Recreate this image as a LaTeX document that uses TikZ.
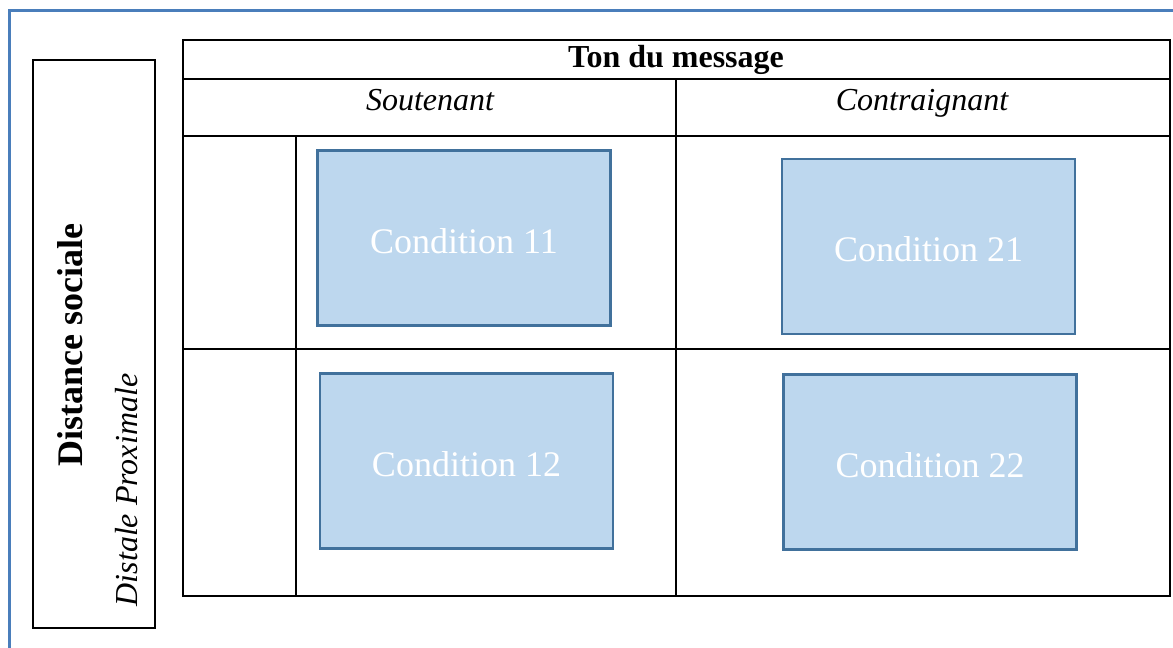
\documentclass[tikz,border=0pt]{standalone}
\usepackage{fontspec}
\setmainfont{Liberation Serif}
\usetikzlibrary{positioning}
\definecolor{framebl}{HTML}{4A7EBB}
\definecolor{condfill}{HTML}{BDD7EE}
\definecolor{conddraw}{HTML}{41719C}

\begin{document}
\begin{tikzpicture}[x=1pt,y=-1pt,
   cond/.style={draw=conddraw, line width=2.5pt, fill=condfill, text=white,
      minimum width=293pt, minimum height=175pt, inner sep=0pt,
      text height=30pt, text depth=0pt,
      font=\fontsize{36}{40}\selectfont},
   head/.style={inner sep=0pt, anchor=base, font=\fontsize{32}{36}\selectfont},
   grid/.style={line width=2pt}]
   \useasboundingbox (0,0) rectangle (1173,648);
   % outer frame
   \draw[framebl, line width=3pt] (9.5,660) -- (9.5,10.5) -- (1185,10.5);

   % left label box
   \node[draw, line width=2pt, minimum width=122pt, minimum height=568pt] (distbox) at (94,344) {};
   \node[inner sep=0pt, rotate=90, font=\fontsize{36}{40}\selectfont\bfseries] (dsoc) at (70,345) {Distance sociale};
   \node[inner sep=0pt, rotate=90, font=\fontsize{32}{36}\selectfont\itshape] (dprox) at (127,490) {Distale Proximale};

   % table
   \draw[grid] (183,40) rectangle (1170,596);
   \draw[grid] (183,79) -- (1170,79);
   \draw[grid] (183,136) -- (1170,136);
   \draw[grid] (183,349) -- (1170,349);
   \draw[grid] (676,79) -- (676,596);
   \draw[grid] (296,136) -- (296,596);

   \node[head, font=\fontsize{32}{36}\selectfont\bfseries] (ton) at (676,67) {Ton du message};
   \node[head, font=\fontsize{32}{36}\selectfont\itshape] (sout) at (430,110) {Soutenant};
   \node[head, font=\fontsize{32}{36}\selectfont\itshape] (contr) at (922,110) {Contraignant};

   % conditions
   \node[cond] (c11) at (464,238)   {Condition 11};
   \node[cond] (c21) at (928.5,246.5) {Condition 21};
   \node[cond] (c12) at (466.5,461) {Condition 12};
   \node[cond] (c22) at (930,462)   {Condition 22};
\end{tikzpicture}
\end{document}
